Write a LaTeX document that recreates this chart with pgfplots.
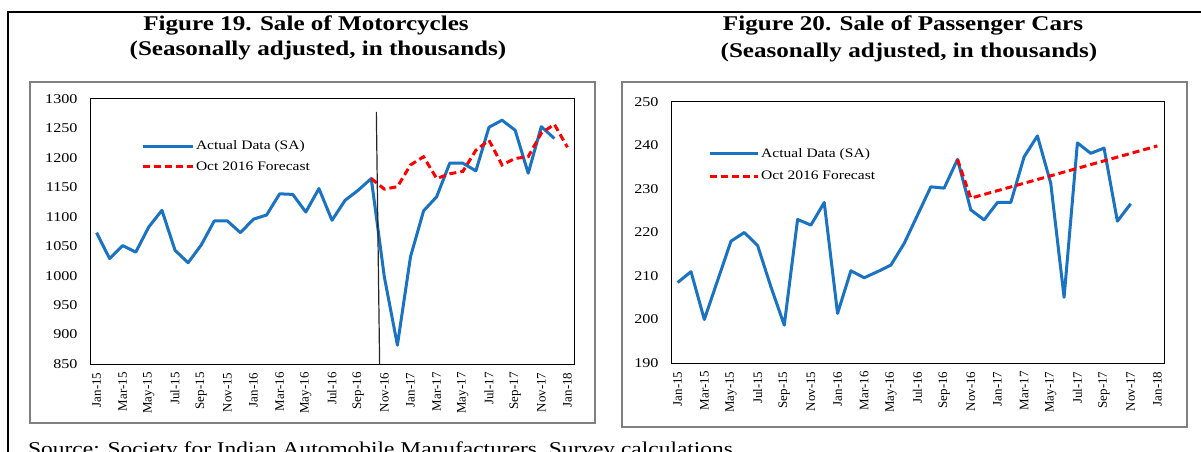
\documentclass[border=0pt]{standalone}
\usepackage{fontspec}
\setmainfont{Liberation Serif}
\newfontfamily\wide[FakeStretch=1.2]{Liberation Serif}
\usepackage{pgfplots}
\pgfplotsset{compat=1.18}
\definecolor{sablue}{RGB}{25,114,194}

\pgfplotstableread{
x y
0 1073
1 1029
2 1051
3 1040
4 1083
5 1111
6 1043
7 1022
8 1052
9 1093
10 1093
11 1073
12 1096
13 1103
14 1139
15 1138
16 1108
17 1148
18 1094
19 1128
20 1145
21 1165
22 998
23 882
24 1032
25 1110
26 1134
27 1191
28 1191
29 1178
30 1252
31 1264
32 1247
33 1174
34 1253
35 1233
}\motoactual

\pgfplotstableread{
x y
21 1165
22 1147
23 1151
24 1188
25 1202
26 1165
27 1173
28 1177
29 1213
30 1230
31 1188
32 1199
33 1202
34 1242
35 1257
36 1218
}\motofcst

\pgfplotstableread{
x y
0 208.5
1 211
2 200
3 209
4 218
5 220
6 217
7 207.5
8 198.7
9 223
10 221.7
11 226.9
12 201.4
13 211.2
14 209.6
15 211
16 212.5
17 217.5
18 224
19 230.5
20 230.2
21 236.8
22 225.2
23 222.9
24 226.9
25 226.9
26 237.4
27 242.2
28 231.3
29 205.1
30 240.6
31 238.2
32 239.4
33 222.6
34 226.6
}\caractual

\pgfplotstableread{
x y
21 236.8
22 227.9
36 239.9
}\carfcst

\pgfplotsset{
  panel/.style={
    scale only axis, anchor=south west,
    xmin=-0.5, xmax=36.5,
    xtick={0,2,...,36},
    xticklabels={Jan-15,Mar-15,May-15,Jul-15,Sep-15,Nov-15,Jan-16,Mar-16,May-16,Jul-16,Sep-16,Nov-16,Jan-17,Mar-17,May-17,Jul-17,Sep-17,Nov-17,Jan-18},
    major tick length=0pt,
    tick style={draw=none},
    axis line style={black, line width=1bp},
    /pgf/number format/assume math mode=true,
    /pgf/number format/1000 sep={},
    yticklabel style={font=\wide\fontsize{13.5}{15}\selectfont},
    yticklabel shift=9bp,
    xticklabel style={font=\fontsize{13}{14}\selectfont, rotate=90, anchor=east},
    xticklabel shift=5bp,
    legend cell align=left,
    legend style={draw=none, fill=none, font=\wide\fontsize{13}{15}\selectfont, anchor=north west, inner sep=0pt},
  },
  actual/.style={sablue, line width=3bp, line join=round},
  fcst/.style={red, line width=3bp, dash pattern=on 7bp off 4bp},
}

\begin{document}
\begin{tikzpicture}[x=1bp,y=1bp]
\useasboundingbox (0,0) rectangle (1201,-452);
\draw[line width=2bp] (8,-470) -- (8,-12) -- (1215,-12);
\draw[black!50, line width=1.3bp] (30,-82) rectangle (595,-423);
\draw[black!50, line width=1.3bp] (622,-82) rectangle (1187,-427);
\node[font=\wide\bfseries\fontsize{21}{25}\selectfont, anchor=base] at (306,-31) {Figure 19. Sale of Motorcycles};
\node[font=\wide\bfseries\fontsize{21}{25}\selectfont, anchor=base] at (318,-56) {(Seasonally adjusted, in thousands)};
\node[font=\wide\bfseries\fontsize{21}{25}\selectfont, anchor=base] at (903,-31) {Figure 20. Sale of Passenger Cars};
\node[font=\wide\bfseries\fontsize{21}{25}\selectfont, anchor=base] at (909,-58) {(Seasonally adjusted, in thousands)};
\node[font=\wide\fontsize{19.6}{22}\selectfont, anchor=base west, inner sep=0pt] at (28,-456) {Source: Society for Indian Automobile Manufacturers, Survey calculations};

\begin{axis}[panel, at={(90bp,-364bp)}, width=484bp, height=265bp,
  ymin=850, ymax=1300, ytick={850,900,...,1300},
  legend style={at={(0.105,0.85)}, row sep=6bp},
  legend image code/.code={\draw[#1] (0bp,0bp) -- (50bp,0bp);}]
\addplot[actual] table[x=x,y=y] {\motoactual};
\addlegendentry{Actual Data (SA)}
\addplot[fcst] table[x=x,y=y] {\motofcst};
\addlegendentry{Oct 2016 Forecast}
\addplot[black!85, line width=1.2bp, forget plot] coordinates {(21.39,1278) (21.64,850)};
\end{axis}

\begin{axis}[panel, at={(671bp,-363bp)}, width=493bp, height=261bp,
  ymin=190, ymax=250, ytick={190,200,...,250},
  legend style={at={(0.075,0.83)}, row sep=8bp},
  legend image code/.code={\draw[#1] (0bp,0bp) -- (48bp,0bp);}]
\addplot[actual] table[x=x,y=y] {\caractual};
\addlegendentry{Actual Data (SA)}
\addplot[fcst] table[x=x,y=y] {\carfcst};
\addlegendentry{Oct 2016 Forecast}
\end{axis}
\end{tikzpicture}
\end{document}
